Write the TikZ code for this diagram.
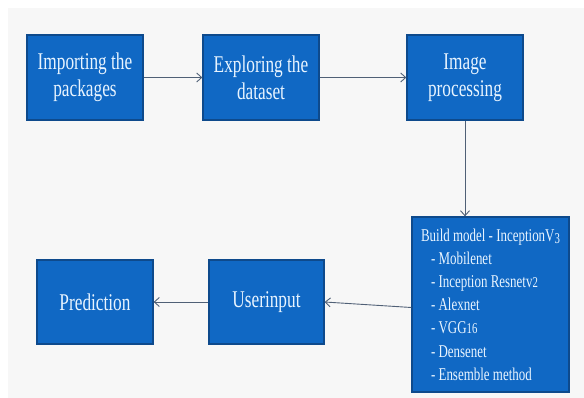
\documentclass[tikz,border=0pt]{standalone}
\usepackage{fontspec}
\setmainfont{Liberation Serif}[FakeStretch=0.72]
\usetikzlibrary{arrows.meta}
\definecolor{boxfill}{RGB}{16,104,196}
\definecolor{boxline}{RGB}{14,74,140}
\definecolor{boxtext}{RGB}{232,244,255}
\definecolor{arrline}{RGB}{80,96,118}
\definecolor{panel}{RGB}{247,247,247}
\tikzset{
  flowbox/.style={draw=boxline, line width=1.3pt, fill=boxfill, text=boxtext,
    minimum width=116pt, minimum height=85pt, inner sep=2pt, align=center,
    font=\fontsize{24}{27}\selectfont},
  bigbox/.style={flowbox, minimum width=157pt, minimum height=175pt, align=left,
    font=\fontsize{18}{23.2}\selectfont},
  arr/.style={draw=arrline, line width=0.9pt, -{Straight Barb[length=5pt,width=9pt]}}
}
\begin{document}
\begin{tikzpicture}[x=1pt,y=-1pt]
\useasboundingbox (0,0) rectangle (584,398);
\fill[white] (0,0) rectangle (584,398);
\fill[panel] (8,8) rectangle (584,398);
\node[flowbox] (b1) at (85,77.5) {Importing the\\packages};
\node[flowbox] (b2) at (261,77.5) {Exploring the\\dataset};
\node[flowbox] (b3) at (465,77.5) {Image\\processing};
\node[bigbox] (b4) at (490.5,304.5) {Build model - InceptionV{\fontsize{15}{15}\selectfont\raisebox{-2.5pt}{3}}\\
\hspace{10pt}- Mobilenet\\
\hspace{10pt}- Inception Resnetv{\fontsize{15}{15}\selectfont 2}\\
\hspace{10pt}- Alexnet\\
\hspace{10pt}- VGG{\fontsize{15}{15}\selectfont 16}\\
\hspace{10pt}- Densenet\\
\hspace{10pt}- Ensemble method};
\node[flowbox, minimum height=84pt] (pred) at (95,302) {Prediction};
\node[flowbox, minimum width=115pt, minimum height=84pt] (user) at (266.5,302) {Userinput};
\draw[arr] (b1) -- (b2);
\draw[arr] (b2) -- (b3);
\draw[arr] (b3.south) -- (b3.south |- b4.north);
\draw[arr] ([yshift=-3pt]b4.west) -- (user.east);
\draw[arr] (user) -- (pred);
\end{tikzpicture}
\end{document}
